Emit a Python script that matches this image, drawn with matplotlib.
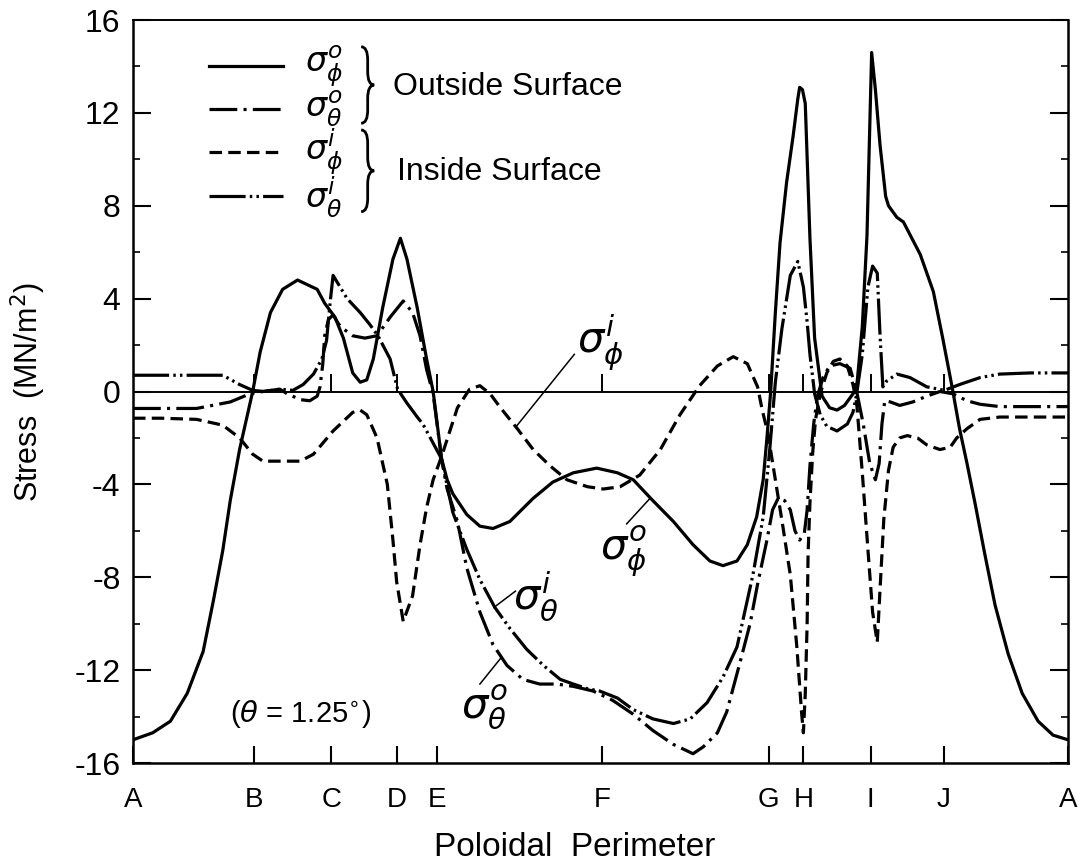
import matplotlib
matplotlib.use("Agg")
import numpy as np
import matplotlib.pyplot as plt
from matplotlib.path import Path
from matplotlib.patches import PathPatch

plt.rcParams['font.family'] = ['Liberation Sans', 'DejaVu Sans']
plt.rcParams['mathtext.fontset'] = 'dejavusans'
plt.rcParams['axes.unicode_minus'] = False
plt.rcParams['lines.scale_dashes'] = False

# stations around the poloidal perimeter (percent of perimeter length)
station_names = ['A', 'B', 'C', 'D', 'E', 'F', 'G', 'H', 'I', 'J', 'A']
station_pos = [0, 12.9, 21.2, 28.2, 32.5, 50.2, 68.0, 71.7, 78.9, 86.7, 100]

# outside surface, meridional stress (MN/m^2)
phi_out_s = [0, 2.1, 4.0, 5.8, 7.5, 8.6, 9.6, 10.4, 11.4, 12.8, 13.6, 14.7, 16.0, 17.6, 19.7,
             20.5, 21.6, 22.5, 23.5, 24.3, 25.0, 25.7, 26.7, 27.8, 28.6, 29.3, 30.4, 31.4, 32.1,
             32.6, 33.0, 33.6, 34.2, 35.7, 37.1, 38.5, 40.3, 42.8, 44.9, 47.1, 49.6, 51.8, 53.5,
             55.6, 57.8, 59.9, 61.7, 63.1, 64.6, 65.7, 66.7, 67.4, 67.8, 68.2, 68.7, 69.2, 69.9,
             70.6, 71.1, 71.3, 71.6, 71.9, 72.4, 72.9, 73.7, 74.5, 75.3, 76.1, 77.0, 77.4, 78.0,
             78.5, 79.0, 79.4, 79.9, 80.5, 80.8, 81.7, 82.4, 84.2, 85.6, 86.6, 87.6, 88.4, 89.2,
             90.1, 91.1, 92.2, 93.6, 95.1, 96.8, 98.4, 100]
phi_out = [-15.0, -14.7, -14.2, -13.0, -11.2, -9.0, -6.85, -4.7, -2.5, 0.0, 1.7, 3.4, 4.4, 4.8, 4.4,
           3.8, 3.2, 2.3, 0.8, 0.4, 0.5, 1.4, 3.6, 5.7, 6.6, 5.7, 3.6, 1.4, 0.0,
           -1.6, -2.9, -3.8, -4.4, -5.3, -5.8, -5.9, -5.6, -4.6, -3.9, -3.5, -3.3, -3.5, -3.8,
           -4.7, -5.6, -6.6, -7.3, -7.5, -7.3, -6.6, -5.4, -3.8, -2.0, 0.0, 3.4, 6.4, 9.0,
           11.0, 12.6, 13.1, 13.0, 12.4, 6.6, 2.3, -0.2, -0.7, -0.8, -0.6, -0.1, 0.2, 2.8,
           6.7, 14.6, 13.0, 10.6, 8.4, 8.0, 7.5, 7.3, 5.9, 4.3, 2.3, 0.2, -1.6, -3.1,
           -4.9, -7.0, -9.2, -11.3, -13.0, -14.2, -14.8, -15.0]

# outside surface, hoop stress
theta_out_s = [0, 6.8, 10.4, 12.5, 13.9, 15.7, 16.5, 17.9, 18.9, 19.7, 20.0, 20.3, 20.5, 20.9, 21.4,
               22.0, 22.5, 23.5, 24.8, 26.1, 27.5, 28.9, 29.9, 30.7, 31.4, 32.1, 33.0, 33.6, 34.7,
               35.7, 37.1, 38.5, 40.0, 41.7, 43.5, 45.3, 47.1, 49.2, 51.3, 53.5, 55.6, 57.8, 59.9,
               61.0, 62.5, 63.5, 64.9, 66.0, 66.8, 67.8, 68.4, 69.0, 69.7, 70.3, 70.8, 71.3, 71.8,
               72.1, 72.4, 72.8, 73.2, 73.8, 74.5, 75.6, 76.7, 77.4, 78.1, 78.8, 79.4, 79.8, 80.1,
               80.4, 81.0, 82.0, 83.4, 84.9, 86.3, 87.7, 89.2, 90.6, 92.7, 100]
theta_out = [-0.73, -0.73, -0.45, -0.1, 0.0, 0.1, -0.1, -0.35, -0.4, -0.2, 0.2, 1.2, 2.4, 3.1, 3.3,
             2.9, 2.7, 2.4, 2.3, 2.4, 3.2, 3.9, 3.4, 2.4, 0.95, -0.1, -2.9, -4.2, -5.6,
             -7.6, -9.5, -10.9, -11.8, -12.4, -12.6, -12.6, -12.7, -12.9, -13.3, -13.9, -14.6, -15.2, -15.6,
             -15.3, -14.7, -13.8, -11.7, -10.0, -8.3, -6.4, -5.1, -4.6, -4.7, -5.1, -6.0, -6.4, -6.1,
             -5.1, -3.2, -1.4, -0.2, 0.6, 1.1, 1.2, 1.0, 0.0, -1.4, -3.1, -3.8, -3.1, -1.4,
             -0.4, -0.45, -0.6, -0.45, -0.2, 0.0, -0.1, -0.4, -0.55, -0.65, -0.65]

# inside surface, meridional stress
phi_in_s = [0, 3.0, 6.8, 9.6, 11.4, 12.8, 13.9, 15.7, 17.9, 19.3, 21.4, 23.5, 24.3, 25.0, 26.1,
            27.2, 27.8, 28.2, 28.9, 29.9, 30.7, 31.4, 32.1, 33.0, 34.7, 36.0, 37.1, 38.2, 39.3,
            41.1, 42.8, 44.6, 46.4, 48.6, 50.3, 52.1, 54.2, 56.4, 58.5, 60.6, 62.5, 64.2, 65.7,
            66.8, 67.3, 67.9, 68.9, 69.5, 70.3, 71.0, 71.5, 71.7, 71.9, 72.1, 72.2, 72.4, 72.7,
            73.0, 73.5, 74.2, 74.9, 75.6, 76.4, 77.0, 77.4, 78.0, 78.6, 79.1, 79.6, 79.9, 80.3,
            80.8, 81.3, 82.0, 82.8, 83.9, 84.9, 86.3, 87.4, 88.1, 89.2, 90.6, 92.7, 100]
phi_in = [-1.15, -1.15, -1.2, -1.45, -2.0, -2.7, -3.0, -3.0, -3.0, -2.7, -1.7, -0.9, -0.8, -1.0, -2.0,
          -4.0, -6.4, -8.2, -9.9, -8.8, -6.6, -5.0, -3.8, -2.8, -0.7, 0.1, 0.25, -0.1, -0.7,
          -1.6, -2.5, -3.2, -3.8, -4.1, -4.2, -4.1, -3.6, -2.5, -1.0, 0.25, 1.1, 1.5, 1.2,
          0.2, -0.8, -1.8, -4.3, -5.8, -7.9, -11.0, -13.8, -14.7, -13.0, -10.0, -7.0, -4.8, -2.6,
          -1.2, -0.1, 0.8, 1.3, 1.4, 1.1, 0.3, -0.5, -3.5, -6.8, -9.5, -10.8, -8.5, -5.5,
          -3.4, -2.4, -2.0, -1.9, -2.0, -2.3, -2.5, -2.4, -2.0, -1.6, -1.2, -1.1, -1.1]

# inside surface, hoop stress
theta_in_s = [0, 9.6, 11.4, 12.8, 14.0, 15.7, 17.1, 18.2, 19.3, 20.2, 20.7, 21.1, 21.4, 22.0, 22.9,
              24.3, 25.3, 26.2, 27.5, 28.3, 29.3, 30.4, 31.0, 33.0, 34.2, 35.7, 37.1, 38.7, 40.3,
              42.1, 43.9, 45.7, 47.1, 48.6, 49.9, 51.8, 53.5, 55.6, 57.8, 59.6, 61.4, 63.1, 64.6,
              66.3, 67.4, 68.1, 68.7, 69.4, 70.3, 71.1, 71.7, 72.1, 72.4, 72.9, 73.5, 74.2, 75.3,
              76.4, 77.0, 77.4, 78.0, 78.6, 79.1, 79.6, 79.9, 80.2, 80.6, 81.7, 83.1, 84.9, 86.8,
              88.4, 90.6, 92.7, 96.0, 100]
theta_in = [0.7, 0.7, 0.3, 0.05, 0.0, 0.1, 0.05, 0.3, 0.75, 1.4, 2.2, 3.9, 5.0, 4.6, 4.0,
            3.4, 2.9, 2.4, 1.4, 0.1, -0.5, -1.1, -1.4, -2.9, -5.2, -6.8, -8.1, -9.3, -10.2,
            -11.1, -11.8, -12.4, -12.6, -12.8, -12.9, -13.2, -13.7, -14.1, -14.3, -14.1, -13.4, -12.3, -11.0,
            -7.9, -5.4, -2.5, 0.4, 2.7, 5.0, 5.6, 4.5, 3.0, 1.6, -0.1, -1.0, -1.5, -1.7,
            -1.4, -0.9, -0.1, 1.6, 4.5, 5.4, 5.1, 2.4, 0.2, 0.45, 0.75, 0.6, 0.2, 0.05,
            0.3, 0.6, 0.75, 0.8, 0.8]

# line styles (dash lengths in points)
ls_phi_out = '-'
ls_theta_out = (0, (20, 4.5, 2.2, 4.5))
ls_phi_in = (0, (9, 4.5))
ls_theta_in = (0, (26, 3, 1.8, 3, 1.8, 3))
LW = 2.3

fig = plt.figure(figsize=(10.8, 8.67), dpi=100)
ax = fig.add_axes([0.12315, 0.11995, 0.86574, 0.85698])
ax.set_xlim(0, 100)
ax.set_ylim(-16, 16)

ax.axhline(0, color='k', lw=1.4, zorder=1)
ax.vlines(station_pos[1:-1], 0, 0.75, color='k', lw=1.4, zorder=1)

ax.plot(phi_out_s, phi_out, color='k', lw=LW, ls=ls_phi_out, zorder=3)
ax.plot(theta_out_s, theta_out, color='k', lw=LW, ls=ls_theta_out, zorder=3)
ax.plot(phi_in_s, phi_in, color='k', lw=LW, ls=ls_phi_in, zorder=3)
ax.plot(theta_in_s, theta_in, color='k', lw=LW, ls=ls_theta_in, zorder=3)

# axes and ticks
for sp in ax.spines.values():
    sp.set_linewidth(1.8)
ax.spines['top'].set_linewidth(1.4)
ax.set_yticks(np.arange(-16, 17, 4))
ax.set_yticks(np.arange(-14, 16, 4), minor=True)
ax.tick_params(axis='y', which='major', direction='in', length=13, width=1.5,
               left=True, right=True, labelsize=23, pad=9)
ax.tick_params(axis='y', which='minor', direction='in', length=5, width=1.2,
               left=True, right=True)
ax.set_xticks(station_pos)
ax.set_xticklabels(station_names)
ax.tick_params(axis='x', direction='in', length=12, width=1.5, labelsize=20, pad=17)

fig.text(575 / 1080, 1 - 848 / 867, 'Poloidal  Perimeter', fontsize=24,
         ha='center', va='center')
fig.text(28 / 1080, 1 - 392 / 867, 'Stress  (MN/m$^2$)', fontsize=22,
         rotation=90, ha='center', va='center')

# legend: line samples, symbols, braces and surface names
leg_styles = [ls_phi_out, ls_theta_out, ls_phi_in, ls_theta_in]
leg_labels = [r'$\sigma_{\phi}^{o}$', r'$\sigma_{\theta}^{o}$',
              r'$\sigma_{\phi}^{i}$', r'$\sigma_{\theta}^{i}$']
leg_rows = [0.938, 0.880, 0.822, 0.763]
for style, label, yr in zip(leg_styles, leg_labels, leg_rows):
    ax.plot([0.0813, 0.1604], [yr, yr], color='k', lw=LW, ls=style,
            transform=ax.transAxes)
    ax.text(0.184, yr, label, fontsize=24, ha='left', va='center',
            transform=ax.transAxes)


def brace(x, y_top, y_bot, w, d=0.018):
    xm = x + w / 2
    ym = (y_top + y_bot) / 2
    verts = [(x, y_top), (xm, y_top), (xm, y_top - d), (xm, ym + d),
             (xm, ym), (x + w, ym), (xm, ym), (xm, ym - d), (xm, y_bot + d),
             (xm, y_bot), (x, y_bot)]
    codes = [Path.MOVETO, Path.CURVE3, Path.CURVE3, Path.LINETO,
             Path.CURVE3, Path.CURVE3, Path.CURVE3, Path.CURVE3, Path.LINETO,
             Path.CURVE3, Path.CURVE3]
    ax.add_patch(PathPatch(Path(verts, codes), fill=False, lw=2.0,
                           transform=ax.transAxes))


brace(0.244, 0.964, 0.861, 0.014)
brace(0.244, 0.852, 0.742, 0.014)
ax.text(0.278, 0.910, 'Outside Surface', fontsize=23, ha='left', va='center',
        transform=ax.transAxes)
ax.text(0.282, 0.795, 'Inside Surface', fontsize=23, ha='left', va='center',
        transform=ax.transAxes)

# curve labels with leader lines
ax.text(47.5, 2.1, r'$\sigma_{\phi}^{i}$', fontsize=30, ha='left', va='center')
ax.plot([47.2, 41.0], [1.6, -1.5], color='k', lw=1.1)
ax.text(49.9, -6.9, r'$\sigma_{\phi}^{o}$', fontsize=30, ha='left', va='center')
ax.plot([52.8, 55.3], [-5.7, -4.6], color='k', lw=1.1)
ax.text(40.6, -8.8, r'$\sigma_{\theta}^{i}$', fontsize=30, ha='left', va='center')
ax.plot([40.9, 38.6], [-8.6, -9.3], color='k', lw=1.1)
ax.text(35.1, -13.6, r'$\sigma_{\theta}^{o}$', fontsize=30, ha='left', va='center')
ax.plot([37.1, 39.3], [-12.6, -11.5], color='k', lw=1.1)

ax.text(10.4, -13.9, r'($\theta$ = 1.25$^{\circ}$)', fontsize=21, ha='left', va='center')

fig.savefig('out.png', dpi=100)
